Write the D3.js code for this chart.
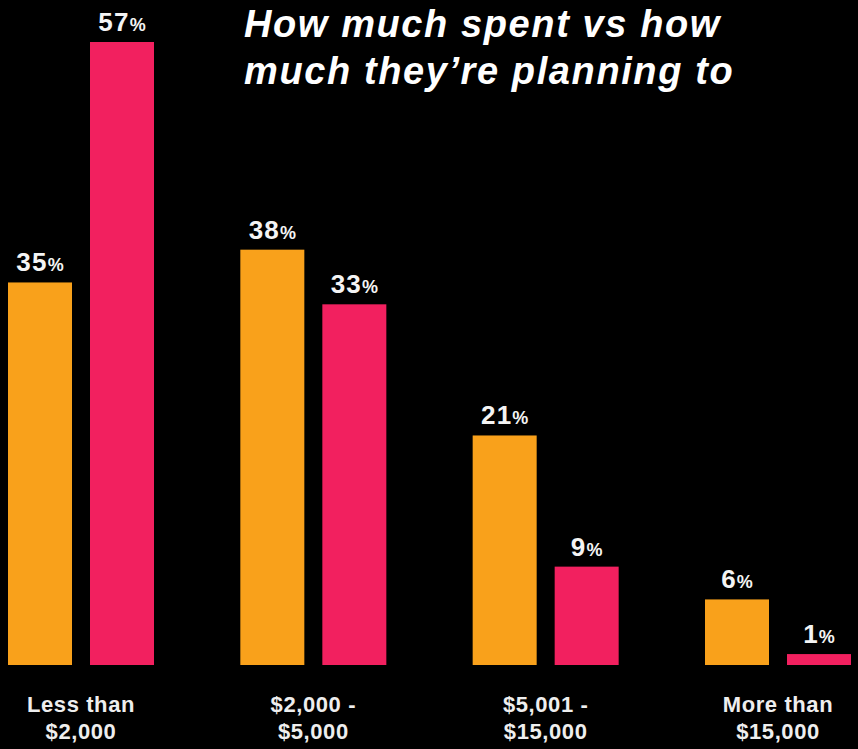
<!DOCTYPE html>
<html>
<head>
<meta charset="utf-8">
<script src="https://cdn.jsdelivr.net/npm/d3@7"></script>
<style>
  html, body { margin: 0; padding: 0; background: #000; }
  svg { display: block; }
  text { font-family: "Liberation Sans", Arial, Helvetica, sans-serif; }
</style>
</head>
<body>
<svg id="chart" width="858" height="749"></svg>
<script>
// Spending brackets and share of respondents (%)
const categories = [["Less than", "$2,000"], ["$2,000 -", "$5,000"], ["$5,001 -", "$15,000"], ["More than", "$15,000"]];
const seriesNames = ["Spent", "Planning"];
const spent = [35, 38, 21, 6];
const planning = [57, 33, 9, 1];
const titleLines = ["How much spent vs how", "much they\u2019re planning to"];

const colors = { Spent: "#F9A11B", Planning: "#F2205F" };
const W = 858, H = 749;
const svg = d3.select("#chart");
svg.append("rect").attr("width", W).attr("height", H).attr("fill", "#000");

const rows = categories.map((c, i) => ({
  key: c.join(" "),
  lines: c,
  values: [{ s: "Spent", v: spent[i] }, { s: "Planning", v: planning[i] }]
}));

const x0 = d3.scaleBand().domain(rows.map(d => d.key)).range([8, 851]).paddingInner(0.3716).paddingOuter(0);
const x1 = d3.scaleBand().domain(seriesNames).range([0, x0.bandwidth()]).paddingInner(0.2195).paddingOuter(0);
const y = d3.scaleLinear().domain([0, 57]).range([665, 42]);

const groups = svg.append("g").selectAll("g").data(rows).join("g")
  .attr("transform", d => `translate(${x0(d.key)},0)`);

groups.selectAll("rect").data(d => d.values).join("rect")
  .attr("x", d => x1(d.s))
  .attr("y", d => y(d.v))
  .attr("width", x1.bandwidth())
  .attr("height", d => y(0) - y(d.v))
  .attr("fill", d => colors[d.s]);

// Value labels: number with a smaller percent sign
const vl = groups.selectAll("text.val").data(d => d.values).join("text")
  .attr("class", "val")
  .attr("x", d => x1(d.s) + x1.bandwidth() / 2)
  .attr("y", d => y(d.v) - 11)
  .attr("text-anchor", "middle")
  .attr("fill", "#F4F4F4")
  .attr("font-weight", "bold");
vl.append("tspan").attr("font-size", 26).attr("letter-spacing", 1.2).text(d => d.v);
vl.append("tspan").attr("font-size", 18).text("%");

// Category labels under each group
const cl = groups.append("text")
  .attr("x", x0.bandwidth() / 2)
  .attr("text-anchor", "middle")
  .attr("fill", "#EEEEEE")
  .attr("font-weight", "bold")
  .attr("font-size", 22)
  .attr("letter-spacing", 0.6);
cl.selectAll("tspan").data(d => d.lines).join("tspan")
  .attr("x", x0.bandwidth() / 2)
  .attr("y", (d, i) => 712 + i * 27)
  .text(d => d);

// Title
const t = svg.append("text")
  .attr("fill", "#FFFFFF")
  .attr("font-weight", "bold")
  .attr("font-style", "italic")
  .attr("font-size", 38)
  .attr("letter-spacing", 1.6);
t.selectAll("tspan").data(titleLines).join("tspan")
  .attr("x", 244)
  .attr("y", (d, i) => 37 + i * 47)
  .text(d => d);
</script>
</body>
</html>
